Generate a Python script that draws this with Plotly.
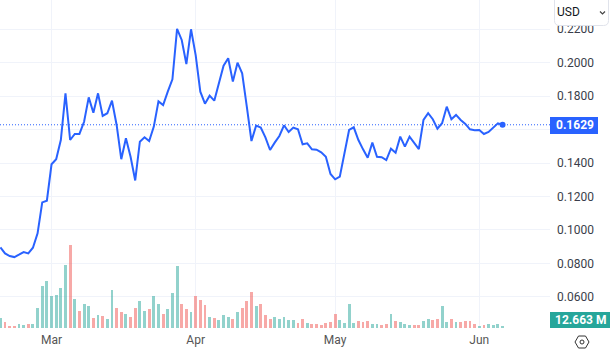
import plotly.graph_objects as go
import pandas as pd

start_date = "2024-02-19"
price = [
    0.0896, 0.0860, 0.0844, 0.0838, 0.0852, 0.0868, 0.0860, 0.0894, 0.0980, 0.1165,
    0.1175, 0.1393, 0.1423, 0.1538, 0.1817, 0.1538, 0.1574, 0.1574, 0.1647, 0.1793,
    0.1701, 0.1817, 0.1682, 0.1698, 0.1773, 0.1628, 0.1423, 0.1548, 0.1438, 0.1296,
    0.1528, 0.1554, 0.1532, 0.1618, 0.1769, 0.1747, 0.1827, 0.1901, 0.2202, 0.2136,
    0.1992, 0.2200, 0.2046, 0.1827, 0.1755, 0.1803, 0.1773, 0.1877, 0.1982, 0.2027,
    0.1887, 0.2000, 0.1937, 0.1737, 0.1532, 0.1624, 0.1613, 0.1554, 0.1478, 0.1522,
    0.1562, 0.1626, 0.1586, 0.1612, 0.1602, 0.1512, 0.1518, 0.1482, 0.1480, 0.1464,
    0.1438, 0.1335, 0.1303, 0.1319, 0.1458, 0.1598, 0.1614, 0.1538, 0.1482, 0.1432,
    0.1522, 0.1438, 0.1435, 0.1418, 0.1486, 0.1462, 0.1558, 0.1498, 0.1558, 0.1522,
    0.1484, 0.1658, 0.1698, 0.1662, 0.1606, 0.1638, 0.1737, 0.1662, 0.1688, 0.1658,
    0.1634, 0.1602, 0.1596, 0.1598, 0.1574, 0.1586, 0.1610, 0.1638, 0.1629,
]
volume_m = [
    58, 35, 12, 12, 23, 17, 23, 23, 116, 244,
    273, 186, 191, 232, 365, 481, 168, 99, 139, 128,
    58, 75, 70, 52, 220, 116, 93, 81, 64, 116,
    157, 99, 110, 186, 139, 81, 110, 203, 360, 139,
    110, 93, 186, 162, 133, 64, 58, 46, 75, 64,
    52, 93, 116, 157, 209, 128, 139, 75, 52, 64,
    52, 64, 46, 46, 29, 52, 29, 23, 23, 17,
    29, 35, 81, 46, 29, 139, 29, 41, 35, 41,
    23, 23, 17, 23, 81, 41, 35, 23, 17, 17,
    17, 41, 52, 46, 52, 128, 35, 52, 35, 35,
    41, 41, 23, 12, 17, 23, 17, 23, 12.663,
]
direction = (
    "GRRRGGRGGG"
    "GGGGGRGRGG"
    "RGRGGRRGRR"
    "GGRGGRGGGR"
    "RGRRRGRGGG"
    "RGRRRGRRRG"
    "GGGGRRGRRR"
    "RRRGGGGRRR"
    "GGRRGRGGGR"
    "RGGRRGGRGR"
    "RRRGRGGGG"
)
x_ticks_dtick = "M1"
price_ticks = [0.06, 0.08, 0.10, 0.12, 0.14, 0.16, 0.18, 0.20, 0.22]
price_tick_labels = ["0.0600", "0.0800", "0.1000", "0.1200", "0.1400", "", "0.1800", "0.2000", "0.2200"]
price_label = "0.1629"
volume_label = "12.663 M"
currency = "USD"

dates = pd.date_range(start_date, periods=len(price), freq="D")
UP, DOWN = "rgba(38,166,154,0.5)", "rgba(239,83,80,0.5)"
BLUE, GRID, TXT = "#2962ff", "#f0f3fa", "#3a3e4a"
FONT = "Roboto, Liberation Sans, sans-serif"
PW, PH = 550, 328
px = lambda v: v / PW
py = lambda v: 1 - v / PH

bar_colors = [UP if d == "G" else DOWN for d in direction]

fig = go.Figure()
fig.add_trace(go.Bar(x=dates, y=volume_m, yaxis="y2", marker=dict(color=bar_colors, line_width=0),
                     width=0.62 * 86400000, showlegend=False))
fig.add_trace(go.Scatter(x=dates, y=price, mode="lines", line=dict(color=BLUE, width=2),
                         showlegend=False))
fig.add_trace(go.Scatter(x=[dates[-1]], y=[price[-1]], mode="markers",
                         marker=dict(color=BLUE, size=6), showlegend=False))

bx0, bx1, by1, r = 554.5, 608.5, 25.5, 5
box_path = (
    f"M {px(bx0)} {py(-3)} L {px(bx1)} {py(-3)} L {px(bx1)} {py(by1 - r)} "
    f"Q {px(bx1)} {py(by1)} {px(bx1 - r)} {py(by1)} L {px(bx0 + r)} {py(by1)} "
    f"Q {px(bx0)} {py(by1)} {px(bx0)} {py(by1 - r)} Z"
)
shapes = [
    dict(type="line", xref="paper", yref="y", x0=0, x1=1, y0=price[-1], y1=price[-1],
         line=dict(color=BLUE, width=1, dash="1px,2px")),
    dict(type="rect", xref="paper", yref="paper", x0=px(550), x1=px(598), y0=py(117), y1=py(134),
         fillcolor=BLUE, line_width=0),
    dict(type="rect", xref="paper", yref="paper", x0=px(550), x1=px(610), y0=py(312), y1=py(328),
         fillcolor="#26a69a", line_width=0),
    dict(type="path", xref="paper", yref="paper", path=box_path,
         fillcolor="white", line=dict(color="#e0e3eb", width=1)),
    dict(type="path", xref="paper", yref="paper",
         path=f"M {px(600)} {py(11.5)} L {px(602.5)} {py(14)} L {px(605)} {py(11.5)}",
         line=dict(color="#444", width=1.2)),
    dict(type="path", xref="paper", yref="paper",
         path=(f"M {px(575)} {py(342)} L {px(578.5)} {py(336)} L {px(585.5)} {py(336)} "
               f"L {px(589)} {py(342)} L {px(585.5)} {py(348)} L {px(578.5)} {py(348)} Z"),
         line=dict(color="#333", width=1)),
    dict(type="circle", xref="paper", yref="paper", x0=px(580), x1=px(584), y0=py(344), y1=py(340),
         line=dict(color="#333", width=1)),
]
annotations = [
    dict(xref="paper", yref="paper", x=px(575), y=py(125.5), text=f"<b>{price_label}</b>", showarrow=False,
         xanchor="center", yanchor="middle", font=dict(color="white", size=12, family=FONT)),
    dict(xref="paper", yref="paper", x=px(580), y=py(320), text=f"<b>{volume_label}</b>", showarrow=False,
         xanchor="center", yanchor="middle", font=dict(color="white", size=12, family=FONT)),
    dict(xref="paper", yref="paper", x=px(568), y=py(12.5), text=currency, showarrow=False,
         xanchor="center", yanchor="middle", font=dict(color="#131722", size=12, family=FONT)),
]

fig.update_layout(
    width=614, height=352,
    margin=dict(l=0, r=64, t=0, b=24),
    paper_bgcolor="white", plot_bgcolor="white",
    font=dict(family=FONT, size=12, color=TXT),
    bargap=0,
    xaxis=dict(type="date", range=["2024-02-18 22:00", "2024-06-16 05:00"],
               dtick=x_ticks_dtick, tick0="2024-03-01", tickformat="%b",
               showgrid=True, gridcolor=GRID, gridwidth=1, zeroline=False, showline=False,
               ticks="", ticklabelstandoff=3, tickfont=dict(size=12, color="#555"), hoverformat="%b %d"),
    yaxis=dict(side="right", range=[0.0414, 0.2375], tickvals=price_ticks, ticktext=price_tick_labels,
               showgrid=True, gridcolor=GRID, gridwidth=1, zeroline=False, showline=False,
               ticks="", ticklabelstandoff=6, tickfont=dict(size=12, color=TXT)),
    yaxis2=dict(overlaying="y", side="left", range=[0, 1902], visible=False, showgrid=False),
    shapes=shapes, annotations=annotations,
)
fig.write_html("out.html", config=dict(displayModeBar=False),
               post_script="document.body.style.margin='0';")
